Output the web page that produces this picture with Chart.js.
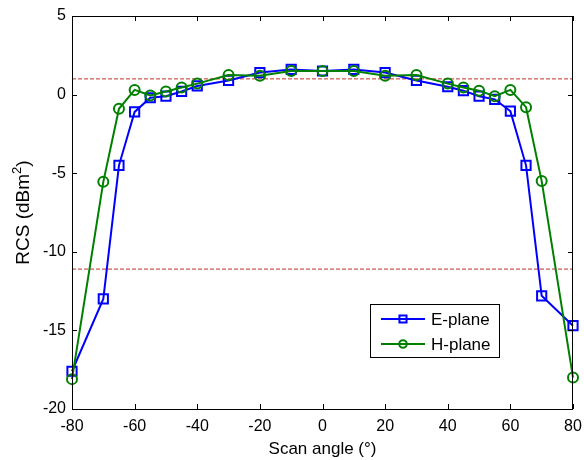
<!DOCTYPE html>
<html>
<head>
<meta charset="utf-8">
<script src="https://cdn.jsdelivr.net/npm/chart.js@4.4.1/dist/chart.umd.min.js"></script>
<style>
  html, body { margin: 0; padding: 0; background: #fff; }
</style>
</head>
<body>
<canvas id="rcsChart" width="584" height="460"></canvas>
<script>
// scan angles (deg) and measured RCS (dBm^2)
const angles = [-80, -70, -65, -60, -55, -50, -45, -40, -30, -20, -10, 0, 10, 20, 30, 40, 45, 50, 55, 60, 65, 70, 80];
const ePlane = [-17.6, -13.0, -4.5, -1.1, -0.2, -0.1, 0.2, 0.55, 0.9, 1.4, 1.6, 1.5, 1.6, 1.4, 0.9, 0.5, 0.25, -0.1, -0.3, -1.05, -4.5, -12.8, -14.7];
const hPlane = [-18.1, -5.55, -0.9, 0.3, -0.05, 0.2, 0.45, 0.7, 1.25, 1.2, 1.5, 1.5, 1.5, 1.2, 1.25, 0.7, 0.45, 0.25, -0.1, 0.3, -0.8, -5.5, -18.0];
const refLevels = [1.0, -11.1];
const seriesNames = ['E-plane', 'H-plane'];
const xTickValues = [-80, -60, -40, -20, 0, 20, 40, 60, 80];
const yTickValues = [-20, -15, -10, -5, 0, 5];

const FONT = '"Liberation Sans", Arial, sans-serif';

function toPoints(ys) {
    return angles.map((a, i) => ({ x: a, y: ys[i] }));
}

const refDatasets = refLevels.map(level => ({
    label: 'ref',
    data: [{ x: xTickValues[0], y: level }, { x: xTickValues[xTickValues.length - 1], y: level }],
    borderColor: '#c0302a',
    borderWidth: 1,
    borderDash: [4, 2],
    pointRadius: 0,
    order: 3
}));

// inward ticks on all four sides, the box, axis titles and legend
const framePlugin = {
    id: 'frame',
    afterDraw(chart) {
        const ctx = chart.ctx;
        const area = chart.chartArea;
        const xs = chart.scales.x;
        const ys = chart.scales.y;
        const tickLen = 5;

        ctx.save();
        ctx.strokeStyle = '#000';
        ctx.lineWidth = 1;
        ctx.strokeRect(area.left + 0.5, area.top + 0.5, area.right - area.left - 1, area.bottom - area.top);

        ctx.beginPath();
        xTickValues.forEach(v => {
            const px = Math.round(xs.getPixelForValue(v)) + 0.5;
            ctx.moveTo(px, area.bottom); ctx.lineTo(px, area.bottom - tickLen);
            ctx.moveTo(px, area.top); ctx.lineTo(px, area.top + tickLen);
        });
        yTickValues.forEach(v => {
            const py = Math.round(ys.getPixelForValue(v)) + 0.5;
            ctx.moveTo(area.left, py); ctx.lineTo(area.left + tickLen, py);
            ctx.moveTo(area.right, py); ctx.lineTo(area.right - tickLen, py);
        });
        ctx.stroke();

        // x title
        ctx.fillStyle = '#000';
        ctx.font = '17px ' + FONT;
        ctx.textAlign = 'center';
        ctx.textBaseline = 'alphabetic';
        ctx.fillText('Scan angle (\u00b0)', (area.left + area.right) / 2, 454);

        // y title with superscript
        ctx.save();
        ctx.translate(29, (area.top + area.bottom) / 2);
        ctx.rotate(-Math.PI / 2);
        ctx.font = '19px ' + FONT;
        const main = 'RCS (dBm';
        const sup = '2';
        const close = ')';
        const wMain = ctx.measureText(main).width;
        ctx.font = '13px ' + FONT;
        const wSup = ctx.measureText(sup).width;
        ctx.font = '19px ' + FONT;
        const wClose = ctx.measureText(close).width;
        let x0 = -(wMain + wSup + wClose) / 2;
        ctx.textAlign = 'left';
        ctx.fillText(main, x0, 0);
        ctx.font = '13px ' + FONT;
        ctx.fillText(sup, x0 + wMain, -8);
        ctx.font = '19px ' + FONT;
        ctx.fillText(close, x0 + wMain + wSup, 0);
        ctx.restore();

        // legend
        const box = { left: 370, top: 304, right: 499, bottom: 357 };
        ctx.fillStyle = '#fff';
        ctx.fillRect(box.left, box.top, box.right - box.left, box.bottom - box.top);
        ctx.strokeStyle = '#000';
        ctx.lineWidth = 1;
        ctx.strokeRect(box.left + 0.5, box.top + 0.5, box.right - box.left, box.bottom - box.top);

        const rows = [319, 344];
        [0, 1].forEach(i => {
            const ds = chart.data.datasets[i];
            const y = rows[i];
            ctx.strokeStyle = ds.borderColor;
            ctx.lineWidth = 2;
            ctx.beginPath();
            ctx.moveTo(381, y); ctx.lineTo(425, y);
            ctx.stroke();
            ctx.fillStyle = 'rgba(0,0,0,0)';
            Chart.helpers.drawPoint(ctx, {
                pointStyle: ds.pointStyle,
                radius: i === 0 ? 5 : 3.8,
                borderWidth: 2
            }, 403, y);
            ctx.fillStyle = '#000';
            ctx.font = '17px ' + FONT;
            ctx.textAlign = 'left';
            ctx.textBaseline = 'middle';
            ctx.fillText(ds.label, 431, y + 1);
        });
        ctx.restore();
    }
};

new Chart(document.getElementById('rcsChart'), {
    type: 'line',
    data: {
        datasets: [
            {
                label: seriesNames[0],
                data: toPoints(ePlane),
                borderColor: '#0000ff',
                backgroundColor: 'rgba(0,0,0,0)',
                borderWidth: 2,
                pointStyle: 'rect',
                pointRadius: 6.5,
                pointBorderWidth: 2,
                pointBackgroundColor: 'rgba(0,0,0,0)',
                order: 2
            },
            {
                label: seriesNames[1],
                data: toPoints(hPlane),
                borderColor: '#008000',
                backgroundColor: 'rgba(0,0,0,0)',
                borderWidth: 2,
                pointStyle: 'circle',
                pointRadius: 5,
                pointBorderWidth: 2,
                pointBackgroundColor: 'rgba(0,0,0,0)',
                order: 1
            },
            ...refDatasets
        ]
    },
    options: {
        responsive: false,
        animation: false,
        clip: false,
        layout: { padding: { left: 0, right: 11, top: 16, bottom: 0 } },
        plugins: {
            legend: { display: false },
            tooltip: { enabled: false }
        },
        scales: {
            x: {
                type: 'linear',
                min: -80,
                max: 80,
                afterFit(scale) {
                    scale.height = 51;
                    scale.paddingLeft = 0;
                    scale.paddingRight = 0;
                },
                afterBuildTicks(scale) { scale.ticks = xTickValues.map(v => ({ value: v })); },
                grid: { display: false, drawTicks: false },
                border: { display: false },
                ticks: {
                    color: '#000',
                    padding: 8,
                    maxRotation: 0,
                    font: { family: FONT, size: 16 }
                }
            },
            y: {
                type: 'linear',
                min: -20,
                max: 5,
                afterFit(scale) {
                    scale.width = 72;
                    scale.paddingTop = 0;
                    scale.paddingBottom = 0;
                },
                afterBuildTicks(scale) { scale.ticks = yTickValues.map(v => ({ value: v })); },
                grid: { display: false, drawTicks: false },
                border: { display: false },
                ticks: {
                    color: '#000',
                    padding: 6,
                    font: { family: FONT, size: 16 }
                }
            }
        }
    },
    plugins: [framePlugin]
});
</script>
</body>
</html>
